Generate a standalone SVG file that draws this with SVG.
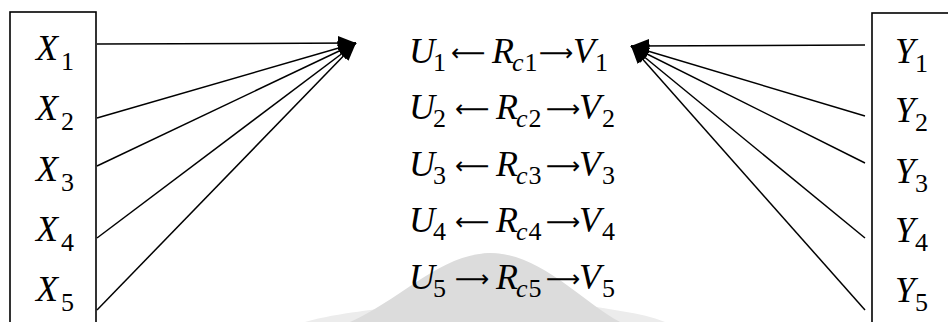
<svg xmlns="http://www.w3.org/2000/svg" width="948" height="322" viewBox="0 0 948 322">
<style>
.box{fill:none;stroke:#000;stroke-width:1.6}
.ln{stroke:#000;stroke-width:1.5;fill:none}
.t{font-family:"Liberation Serif","Times New Roman",serif;font-size:36px;fill:#000}
.i{font-style:italic}
.s{font-size:26px;font-style:normal}
.si{font-size:26px;font-style:italic}
.a{font-family:"DejaVu Sans",sans-serif;font-size:24px;font-style:normal}
</style>
<defs>
<marker id="ah" markerUnits="userSpaceOnUse" markerWidth="20" markerHeight="20" viewBox="0 0 20 20" refX="18" refY="10" orient="auto">
<path d="M0,3 L18,10 L0,17 Z" fill="#000"/>
</marker>
</defs>
<path d="M305,322 C340,312 380,310 400,305 C430,280 460,254 490,253 C525,253 555,285 585,305 C610,310 640,312 665,322 Z" fill="#ececec"/>
<path d="M350,322 C400,300 440,254 490,253 C540,253 580,300 620,322 Z" fill="#dcdcdc"/>
<g id="left-box">
<rect class="box" x="10" y="12" width="86" height="330"/>
<text class="t i" x="36" y="60">X<tspan class="s" x="61" y="70">1</tspan></text>
<text class="t i" x="36" y="120">X<tspan class="s" x="61" y="130">2</tspan></text>
<text class="t i" x="36" y="181">X<tspan class="s" x="61" y="191">3</tspan></text>
<text class="t i" x="36" y="241">X<tspan class="s" x="61" y="251">4</tspan></text>
<text class="t i" x="36" y="301">X<tspan class="s" x="61" y="311">5</tspan></text>
</g>
<g id="right-box">
<rect class="box" x="872" y="13" width="100" height="330"/>
<text class="t i" x="895" y="63">Y<tspan class="s" x="915" y="72">1</tspan></text>
<text class="t i" x="895" y="122">Y<tspan class="s" x="915" y="131">2</tspan></text>
<text class="t i" x="895" y="183">Y<tspan class="s" x="915" y="192">3</tspan></text>
<text class="t i" x="895" y="242">Y<tspan class="s" x="915" y="251">4</tspan></text>
<text class="t i" x="895" y="302">Y<tspan class="s" x="915" y="311">5</tspan></text>
</g>
<g id="equations">
<text class="t" y="63"><tspan class="i" x="409">U</tspan><tspan class="s" x="433" y="71">1</tspan><tspan class="a" x="451" y="61">⟵</tspan><tspan class="i" x="492" y="63">R</tspan><tspan class="si" x="512" y="71">c</tspan><tspan class="s" dx="1">1</tspan><tspan class="a" x="539" y="61">⟶</tspan><tspan class="i" x="573" y="63">V</tspan><tspan class="s" x="595" y="71">1</tspan></text>
<text class="t" y="119"><tspan class="i" x="409">U</tspan><tspan class="s" x="433" y="127">2</tspan><tspan class="a" x="455" y="117">⟵</tspan><tspan class="i" x="496" y="119">R</tspan><tspan class="si" x="516" y="127">c</tspan><tspan class="s" dx="1">2</tspan><tspan class="a" x="546" y="117">⟶</tspan><tspan class="i" x="579" y="119">V</tspan><tspan class="s" x="602" y="127">2</tspan></text>
<text class="t" y="175.5"><tspan class="i" x="409">U</tspan><tspan class="s" x="433" y="183.5">3</tspan><tspan class="a" x="455" y="173.5">⟵</tspan><tspan class="i" x="496" y="175.5">R</tspan><tspan class="si" x="516" y="183.5">c</tspan><tspan class="s" dx="1">3</tspan><tspan class="a" x="546" y="173.5">⟶</tspan><tspan class="i" x="579" y="175.5">V</tspan><tspan class="s" x="602" y="183.5">3</tspan></text>
<text class="t" y="232"><tspan class="i" x="409">U</tspan><tspan class="s" x="433" y="240">4</tspan><tspan class="a" x="455" y="230">⟵</tspan><tspan class="i" x="496" y="232">R</tspan><tspan class="si" x="516" y="240">c</tspan><tspan class="s" dx="1">4</tspan><tspan class="a" x="546" y="230">⟶</tspan><tspan class="i" x="579" y="232">V</tspan><tspan class="s" x="602" y="240">4</tspan></text>
<text class="t" y="288.5"><tspan class="i" x="409">U</tspan><tspan class="s" x="433" y="296.5">5</tspan><tspan class="a" x="455" y="286.5">⟶</tspan><tspan class="i" x="496" y="288.5">R</tspan><tspan class="si" x="516" y="296.5">c</tspan><tspan class="s" dx="1">5</tspan><tspan class="a" x="546" y="286.5">⟶</tspan><tspan class="i" x="579" y="288.5">V</tspan><tspan class="s" x="602" y="296.5">5</tspan></text>
</g>
<g id="connectors">
<line class="ln" x1="97" y1="44" x2="356" y2="43" marker-end="url(#ah)"/>
<line class="ln" x1="97" y1="118" x2="356" y2="43" marker-end="url(#ah)"/>
<line class="ln" x1="97" y1="166" x2="356" y2="43" marker-end="url(#ah)"/>
<line class="ln" x1="97" y1="238" x2="356" y2="43" marker-end="url(#ah)"/>
<line class="ln" x1="97" y1="310" x2="356" y2="43" marker-end="url(#ah)"/>
<line class="ln" x1="865" y1="45" x2="631" y2="46" marker-end="url(#ah)"/>
<line class="ln" x1="865" y1="116" x2="631" y2="46" marker-end="url(#ah)"/>
<line class="ln" x1="865" y1="163" x2="631" y2="46" marker-end="url(#ah)"/>
<line class="ln" x1="865" y1="238" x2="631" y2="46" marker-end="url(#ah)"/>
<line class="ln" x1="865" y1="310" x2="631" y2="46" marker-end="url(#ah)"/>
</g>
</svg>
